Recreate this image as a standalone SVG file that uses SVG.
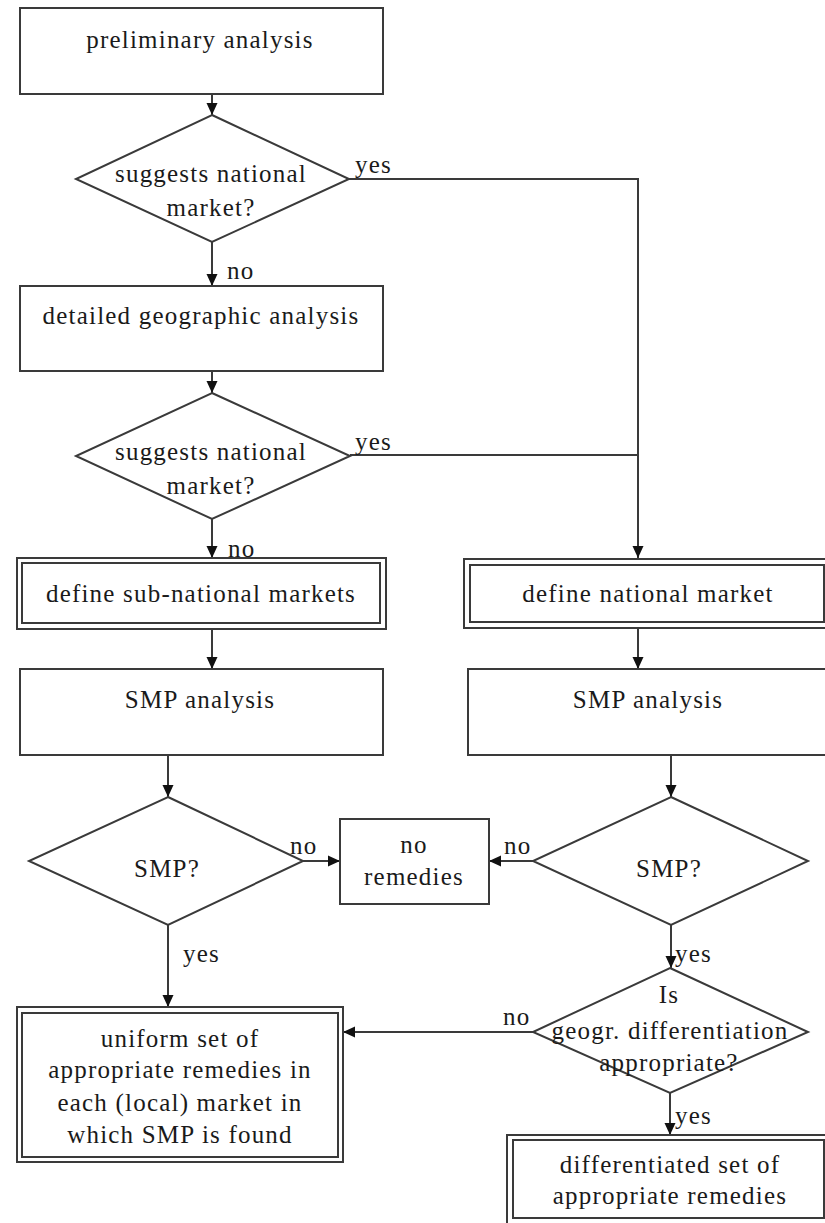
<svg xmlns="http://www.w3.org/2000/svg" width="825" height="1223" viewBox="0 0 825 1223">
<style>
.box{fill:#fff;stroke:#3a3a3a;stroke-width:2}
.dbl{fill:none;stroke:#3a3a3a;stroke-width:2}
.dia{fill:#fff;stroke:#3a3a3a;stroke-width:2}
.t{font-family:"Liberation Serif","Times New Roman",serif;font-size:25px;letter-spacing:1.2px;fill:#1a1a1a;text-anchor:middle}
.lbl{font-family:"Liberation Serif","Times New Roman",serif;font-size:25px;letter-spacing:1.2px;fill:#1a1a1a}
.c{fill:none;stroke:#3a3a3a;stroke-width:2}
</style>
<defs>
<marker id="ah" markerUnits="userSpaceOnUse" markerWidth="12" markerHeight="12" refX="12" refY="6" orient="auto">
<path d="M0,0.5 L12,6 L0,11.5 z" fill="#111"/>
</marker>
</defs>
<rect width="825" height="1223" fill="#fff"/>

<g id="connectors">
<path class="c" d="M212,94 V115" marker-end="url(#ah)"/>
<path class="c" d="M212,242 V286" marker-end="url(#ah)"/>
<path class="c" d="M349,179 H638 V558" marker-end="url(#ah)"/>
<path class="c" d="M350,455 H638"/>
<path class="c" d="M212,371 V393" marker-end="url(#ah)"/>
<path class="c" d="M212,519 V558" marker-end="url(#ah)"/>
<path class="c" d="M212,629 V669" marker-end="url(#ah)"/>
<path class="c" d="M638,628 V669" marker-end="url(#ah)"/>
<path class="c" d="M168,755 V797" marker-end="url(#ah)"/>
<path class="c" d="M671,755 V797" marker-end="url(#ah)"/>
<path class="c" d="M303,861 H340" marker-end="url(#ah)"/>
<path class="c" d="M533,861 H489" marker-end="url(#ah)"/>
<path class="c" d="M168,925 V1007" marker-end="url(#ah)"/>
<path class="c" d="M671,925 V968" marker-end="url(#ah)"/>
<path class="c" d="M533,1032 H343" marker-end="url(#ah)"/>
<path class="c" d="M670,1093 V1135" marker-end="url(#ah)"/>
<text class="lbl" x="355" y="173">yes</text>
<text class="lbl" x="355" y="450">yes</text>
<text class="lbl" x="227" y="279">no</text>
<text class="lbl" x="228" y="557">no</text>
<text class="lbl" x="290" y="854">no</text>
<text class="lbl" x="504" y="854">no</text>
<text class="lbl" x="183" y="962">yes</text>
<text class="lbl" x="675" y="962">yes</text>
<text class="lbl" x="503" y="1025">no</text>
<text class="lbl" x="675" y="1124">yes</text>
</g>

<g id="preliminary">
<rect class="box" x="20" y="8" width="363" height="86"/>
<text class="t" x="200" y="48">preliminary analysis</text>
</g>

<g id="decision1">
<polygon class="dia" points="212,115 349,179 212,242 76,179"/>
<text class="t" x="211" y="182">suggests national</text>
<text class="t" x="211" y="216">market?</text>
</g>

<g id="detailed">
<rect class="box" x="20" y="286" width="363" height="85"/>
<text class="t" x="201" y="324">detailed geographic analysis</text>
</g>

<g id="decision2">
<polygon class="dia" points="212,393 350,456 212,519 76,456"/>
<text class="t" x="211" y="460">suggests national</text>
<text class="t" x="211" y="494">market?</text>
</g>

<g id="subnational">
<rect class="dbl" x="17" y="558" width="369" height="71"/>
<rect class="dbl" x="22" y="563" width="358" height="60"/>
<text class="t" x="201" y="602">define sub-national markets</text>
</g>

<g id="national">
<rect class="dbl" x="464" y="559" width="366" height="69"/>
<rect class="dbl" x="470" y="565" width="354" height="57"/>
<text class="t" x="648" y="602">define national market</text>
</g>

<g id="smp-left">
<rect class="box" x="20" y="669" width="363" height="86"/>
<text class="t" x="200" y="708">SMP analysis</text>
</g>

<g id="smp-right">
<rect class="box" x="468" y="669" width="362" height="86"/>
<text class="t" x="648" y="708">SMP analysis</text>
</g>

<g id="smpq-left">
<polygon class="dia" points="168,797 303,861 168,925 29,861"/>
<text class="t" x="167" y="877">SMP?</text>
</g>

<g id="noremedies">
<rect class="box" x="340" y="819" width="149" height="85"/>
<text class="t" x="414" y="853">no</text>
<text class="t" x="414" y="885">remedies</text>
</g>

<g id="smpq-right">
<polygon class="dia" points="671,797 808,861 671,925 533,861"/>
<text class="t" x="669" y="877">SMP?</text>
</g>

<g id="uniform">
<rect class="dbl" x="17" y="1007" width="326" height="155"/>
<rect class="dbl" x="22" y="1013" width="316" height="144"/>
<text class="t" x="180" y="1047">uniform set of</text>
<text class="t" x="180" y="1078">appropriate remedies in</text>
<text class="t" x="180" y="1111">each (local) market in</text>
<text class="t" x="180" y="1143">which SMP is found</text>
</g>

<g id="geogr">
<polygon class="dia" points="670,968 808,1032 670,1093 533,1032"/>
<text class="t" x="669" y="1003">Is</text>
<text class="t" x="670" y="1039">geogr. differentiation</text>
<text class="t" x="669" y="1071">appropriate?</text>
</g>

<g id="differentiated">
<rect class="dbl" x="507" y="1135" width="323" height="90"/>
<rect class="dbl" x="513" y="1140" width="311" height="78"/>
<text class="t" x="670" y="1173">differentiated set of</text>
<text class="t" x="670" y="1204">appropriate remedies</text>
</g>
</svg>
